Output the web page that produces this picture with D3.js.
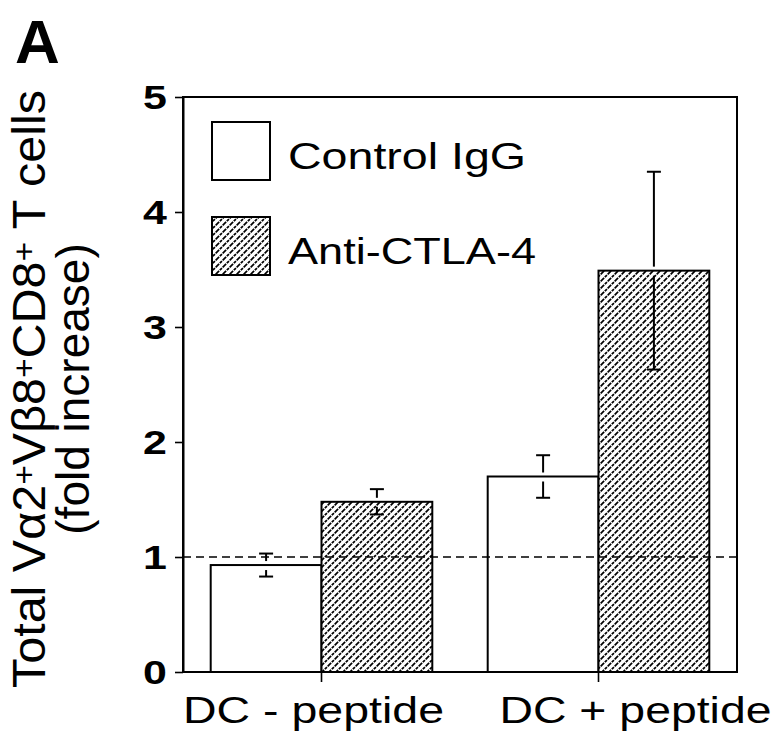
<!DOCTYPE html>
<html>
<head>
<meta charset="utf-8">
<script src="https://cdn.jsdelivr.net/npm/d3@7"></script>
<style>
  html, body { margin: 0; padding: 0; background: #fff; }
  svg { display: block; font-family: "Liberation Sans", Arial, Helvetica, sans-serif; }
</style>
</head>
<body>
<svg id="chart" width="773" height="741"></svg>
<script>
// ---- data ----
const categories = ["DC - peptide", "DC + peptide"];
const seriesNames = ["Control IgG", "Anti-CTLA-4"];
const controlValues = [0.93, 1.70];
const controlErrors = [0.10, 0.185];
const antiValues = [1.48, 3.49];
const antiErrors = [0.11, 0.86];
const yTicks = [0, 1, 2, 3, 4, 5];
const referenceLevel = 1;

(function () {
const svg = d3.select("#chart");
const mLeft = 183, mRight = 737, mTop = 97, mBottom = 672;
const FONT = "'Liberation Sans', Arial, Helvetica, sans-serif";

const x = d3.scaleBand().domain(categories).range([mLeft, mRight])
  .paddingInner(0.2).paddingOuter(0.1);
const xs = d3.scaleBand().domain(seriesNames).range([0, x.bandwidth()]);
const y = d3.scaleLinear().domain([0, 5]).range([mBottom, mTop]);

// hatch pattern
const defs = svg.append("defs");
const pat = defs.append("pattern").attr("id", "hatch")
  .attr("patternUnits", "userSpaceOnUse").attr("width", 7).attr("height", 7);
pat.append("rect").attr("width", 7).attr("height", 7).attr("fill", "#fff");
pat.append("path").attr("d", "M-1,1 l2,-2 M0,7 l7,-7 M6,8 l2,-2")
  .attr("stroke", "#000").attr("stroke-width", 1.7).attr("stroke-dasharray", "3,1");

const rows = [];
categories.forEach((c, i) => {
  rows.push({cat: c, s: seriesNames[0], v: controlValues[i], e: controlErrors[i]});
  rows.push({cat: c, s: seriesNames[1], v: antiValues[i], e: antiErrors[i]});
});

// frame
svg.append("rect").attr("x", mLeft).attr("y", mTop)
  .attr("width", mRight - mLeft).attr("height", mBottom - mTop)
  .attr("fill", "none").attr("stroke", "#000").attr("stroke-width", 2);

// bars
svg.append("g").selectAll("rect").data(rows).join("rect")
  .attr("x", d => x(d.cat) + xs(d.s))
  .attr("y", d => y(d.v))
  .attr("width", xs.bandwidth())
  .attr("height", d => y(0) - y(d.v))
  .attr("fill", d => d.s === seriesNames[0] ? "#fff" : "url(#hatch)")
  .attr("stroke", "#000").attr("stroke-width", 2);

// dashed reference line
svg.append("line").attr("x1", mLeft).attr("x2", mRight)
  .attr("y1", y(referenceLevel)).attr("y2", y(referenceLevel))
  .attr("stroke", "#000").attr("stroke-width", 1.6).attr("stroke-dasharray", "8,5");

// error bars
const eg = svg.append("g").attr("stroke", "#000").attr("stroke-width", 2);
rows.forEach(d => {
  const cx = x(d.cat) + xs(d.s) + xs.bandwidth() / 2;
  const yt = y(d.v + d.e), yb = y(d.v - d.e), ym = y(d.v);
  eg.append("line").attr("x1", cx).attr("x2", cx).attr("y1", yt).attr("y2", ym - 4);
  eg.append("line").attr("x1", cx).attr("x2", cx).attr("y1", ym + 5).attr("y2", yb);
  eg.append("line").attr("x1", cx - 7).attr("x2", cx + 7).attr("y1", yt).attr("y2", yt);
  eg.append("line").attr("x1", cx - 7).attr("x2", cx + 7).attr("y1", yb).attr("y2", yb);
});

// y axis
const ya = svg.append("g").attr("transform", `translate(${mLeft},0)`)
  .call(d3.axisLeft(y).tickValues(yTicks).tickSize(8).tickSizeOuter(0).tickFormat(d3.format("d")));
ya.select(".domain").attr("stroke-width", 2);
ya.selectAll(".tick line").attr("stroke-width", 1.6);
ya.selectAll(".tick text").attr("font-size", 33).attr("font-weight", "bold")
  .attr("font-family", FONT).attr("fill", "#000")
  .attr("x", -12.5).attr("dy", "0.36em").attr("transform", "scale(1.3,1)");

// x axis
const labelShift = [-8, 37];
const labelLength = [261, 272];
const xa = svg.append("g").attr("transform", `translate(0,${mBottom})`)
  .call(d3.axisBottom(x).tickSize(10).tickSizeOuter(0));
xa.select(".domain").remove();
xa.selectAll(".tick line").attr("stroke-width", 1.6);
xa.selectAll(".tick text").attr("font-size", 37.5)
  .attr("font-family", FONT).attr("fill", "#000")
  .attr("y", 51).attr("dy", 0)
  .attr("x", (d, i) => labelShift[i])
  .attr("textLength", (d, i) => labelLength[i])
  .attr("lengthAdjust", "spacingAndGlyphs");

// legend
const legendLength = [238, 248];
const legend = svg.append("g");
seriesNames.forEach((s, i) => {
  const ly = 122 + i * 95;
  legend.append("rect").attr("x", 212).attr("y", ly).attr("width", 58).attr("height", 58)
    .attr("fill", i === 0 ? "#fff" : "url(#hatch)").attr("stroke", "#000").attr("stroke-width", 2);
  legend.append("text").attr("x", 288).attr("y", ly + 47).attr("font-size", 36)
    .attr("textLength", legendLength[i]).attr("lengthAdjust", "spacingAndGlyphs").text(s);
});

// y title
const ytl = svg.append("text").attr("transform", "translate(45,389) rotate(-90)")
  .attr("text-anchor", "middle").attr("font-size", 46)
  .attr("textLength", 598).attr("lengthAdjust", "spacingAndGlyphs");
ytl.append("tspan").text("Total V\u03B12");
ytl.append("tspan").attr("baseline-shift", 10).attr("font-size", 32).text("+");
ytl.append("tspan").text("V\u03B28");
ytl.append("tspan").attr("baseline-shift", 10).attr("font-size", 32).text("+");
ytl.append("tspan").text("CD8");
ytl.append("tspan").attr("baseline-shift", 10).attr("font-size", 32).text("+");
ytl.append("tspan").text(" T cells");
svg.append("text").attr("transform", "translate(89,389) rotate(-90)")
  .attr("text-anchor", "middle").attr("font-size", 46).text("(fold increase)");

// panel label
svg.append("text").attr("x", 15).attr("y", 63).attr("font-size", 62)
  .attr("font-weight", "bold").text("A");
})();
</script>
</body>
</html>
